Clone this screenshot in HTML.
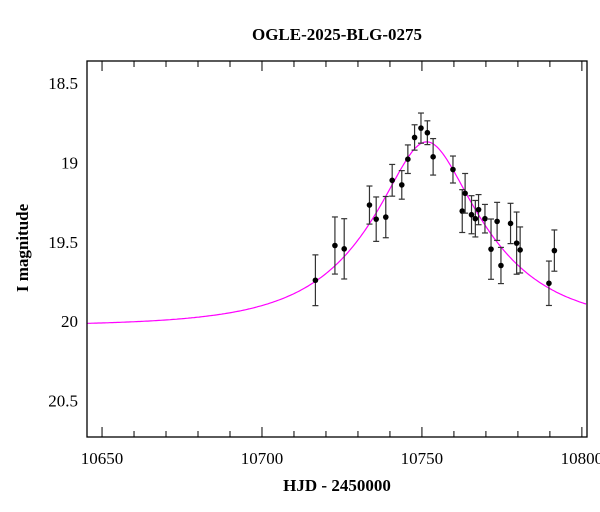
<!DOCTYPE html>
<html><head><meta charset="utf-8"><style>
body{margin:0;background:#fff}
svg{display:block;font-family:"Liberation Serif",serif}
</style></head><body>
<svg id="chart" width="600" height="512" viewBox="0 0 600 512" xmlns="http://www.w3.org/2000/svg">
<rect width="600" height="512" fill="#fff"/>
<text x="337" y="40" text-anchor="middle" font-size="17" font-weight="bold">OGLE-2025-BLG-0275</text>
<text x="337" y="491" text-anchor="middle" font-size="17" font-weight="bold">HJD - 2450000</text>
<text transform="translate(28,248) rotate(-90)" text-anchor="middle" font-size="17" font-weight="bold">I magnitude</text>
<g id="ticks"></g>
<g id="model"></g>
<g id="points"></g>
<rect x="87" y="61" width="500" height="376" fill="none" stroke="#000" stroke-width="1.3"/>
</svg>
<script>
const days=[10716.7,10722.8,10725.7,10733.6,10735.7,10738.7,10740.7,10743.7,10745.6,10747.7,10749.7,10751.7,10753.5,10759.7,10762.6,10763.5,10765.5,10766.7,10767.7,10769.7,10771.6,10773.5,10774.7,10777.7,10779.6,10780.7,10789.7,10791.4];
const mags=[19.742,19.523,19.544,19.268,19.357,19.344,19.112,19.141,18.979,18.842,18.783,18.812,18.964,19.044,19.306,19.194,19.329,19.354,19.297,19.354,19.546,19.371,19.649,19.384,19.508,19.551,19.761,19.555];
const errs=[0.16,0.18,0.19,0.12,0.14,0.13,0.10,0.09,0.09,0.08,0.095,0.075,0.115,0.085,0.135,0.125,0.12,0.115,0.095,0.09,0.19,0.12,0.114,0.127,0.196,0.145,0.14,0.13];
const xTicks=[10650,10700,10750,10800];
const yTicks=[18.5,19,19.5,20,20.5];
const modelParams={t0:10751.5,tE:34.5,u0:0.36,base:20.03};
const NS="http://www.w3.org/2000/svg";
const X0=87,X1=587,Y0=61,Y1=437,D0=10645.3,D1=10801.6,M0=18.36,M1=20.73;
const sx=d=>X0+(d-D0)/(D1-D0)*(X1-X0);
const sy=m=>Y0+(m-M0)/(M1-M0)*(Y1-Y0);
function mk(tag,attrs,parent){const e=document.createElementNS(NS,tag);for(const k in attrs)e.setAttribute(k,attrs[k]);parent.appendChild(e);return e;}
const tg=document.getElementById('ticks');
for(let d=10650;d<=10800;d+=10){const x=sx(d);const maj=(d%50===0);const L=maj?10:6;
 const t1=mk('line',{x1:x,x2:x,y1:Y1,y2:Y1-L,stroke:'#000'},tg);
 
 
 const t2=mk('line',{x1:x,x2:x,y1:Y0,y2:Y0+L,stroke:'#000'},tg);
 
 }
xTicks.forEach(d=>{const t=mk('text',{x:sx(d),y:464,'text-anchor':'middle','font-size':'17'},tg);t.textContent=d;
 
 });
for(let i=4;i<=27;i++){const m=i/10;const y=sy(m);if(y<Y0||y>Y1)continue;const maj=(i%5===0);const L=maj?10:6;
 const t1=mk('line',{x1:X0,x2:X0+L,y1:y,y2:y,stroke:'#000'},tg);
 
 
 const t2=mk('line',{x1:X1,x2:X1-L,y1:y,y2:y,stroke:'#000'},tg);
 
 }
yTicks.forEach(m=>{const t=mk('text',{x:78,y:sy(m)+6,'text-anchor':'end','font-size':'17'},tg);t.textContent=m;
 
 });
// model curve
const p=modelParams;let pts=[];
for(let d=D0;d<=D1;d+=0.5){const tau=(d-p.t0)/p.tE;const u=Math.sqrt(tau*tau+p.u0*p.u0);const A=(u*u+2)/(u*Math.sqrt(u*u+4));const m=p.base-2.5*Math.log10(A);pts.push(sx(d).toFixed(1)+','+sy(m).toFixed(1));}
const mg=document.getElementById('model');
const pl=mk('polyline',{points:pts.join(' '),fill:'none',stroke:'#ff00ff','stroke-width':1.2},mg);


// points
const pg=document.getElementById('points');
days.forEach((d,i)=>{const x=sx(d),y=sy(mags[i]),ya=sy(mags[i]-errs[i]),yb=sy(mags[i]+errs[i]);
 const g=mk('g',{},pg);
 
 
 mk('line',{x1:x,x2:x,y1:ya,y2:yb,stroke:'#333','stroke-width':1.2},g);
 mk('line',{x1:x-3,x2:x+3,y1:ya,y2:ya,stroke:'#333','stroke-width':1.2},g);
 mk('line',{x1:x-3,x2:x+3,y1:yb,y2:yb,stroke:'#333','stroke-width':1.2},g);
 mk('circle',{cx:x,cy:y,r:2.8,fill:'#000'},g);});
</script>
</body></html>
